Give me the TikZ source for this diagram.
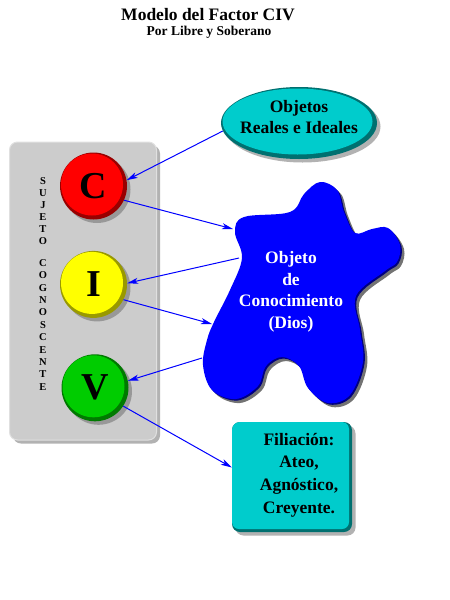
\documentclass[tikz,border=0pt]{standalone}
\usepackage{fontspec}
\setmainfont{Liberation Serif}
\usetikzlibrary{arrows.meta, positioning, shapes.geometric, shadows}

\definecolor{civred}{RGB}{255,0,0}
\definecolor{civyellow}{RGB}{255,255,0}
\definecolor{civgreen}{RGB}{0,204,0}
\definecolor{civblue}{RGB}{0,0,255}
\definecolor{civcyan}{RGB}{0,204,204}

\begin{document}
\begin{tikzpicture}[
    x=1pt, y=-1pt,
    node distance=31pt,
    txt/.style={font=\bfseries\fontsize{17.5}{21.5}\selectfont, align=center, inner sep=0pt},
    shade/.style={drop shadow={shadow xshift=3.5pt, shadow yshift=-3.5pt, fill=black!60}},
    ball/.style={circle, minimum size=67pt, inner sep=0pt, fill=#1!60!black, shade,
        path picture={\fill[#1] ([xshift=-1.5pt,yshift=1.5pt]path picture bounding box.center) circle (31pt);},
        font=\bfseries\fontsize{38}{40}\selectfont},
    letter/.style={font=\bfseries\fontsize{10.5}{12}\selectfont, inner sep=0pt},
    arrow/.style={-{Stealth[length=11pt, width=6pt, inset=3pt]}, civblue, line width=1pt}
]
\useasboundingbox (0,0) rectangle (450,600);

% title
\node[font=\bfseries\fontsize{17.5}{20}\selectfont] (title) at (208,15) {Modelo del Factor CIV};
\node[font=\bfseries\fontsize{13.5}{16}\selectfont] (subtitle) at (209,32) {Por Libre y Soberano};

% subject panel
\node[rectangle, rounded corners=8pt, minimum width=147pt, minimum height=298pt,
      fill=black!20, draw=black!12, line width=1pt, shade] (sujeto) at (83,291) {};
\foreach \ltr [count=\i] in {S,U,J,E,T,O}
  \node[letter] (sj\i) at (43,181+12.1*\i-12.1) {\ltr};
\foreach \ltr [count=\i] in {C,O,G,N,O,S,C,E,N,T,E}
  \node[letter] (cg\i) at (43,263+12.37*\i-12.37) {\ltr};

\node[ball=civred] (c) at (93.5,186) {C};
\node[ball=civyellow, below=of c] (i) {I};
\node[ball=civgreen, below=36pt of i, xshift=1.5pt] (v) {V};

% objects
\node[ellipse, minimum width=156pt, minimum height=72pt, inner sep=0pt, fill=civcyan!55!black, shade,
      path picture={\fill[civcyan] ([xshift=-1.5pt,yshift=1.5pt]path picture bounding box.center) ellipse (75pt and 33pt);}]
      (objetos) at (299,123) {};
\node[txt] (objtxt) at ([yshift=6pt]objetos.center) {Objetos\\Reales e Ideales};

% knowledge blob
\def\blob{plot[smooth cycle, tension=0.6] coordinates {
  (320,182) (337,190) (344,212) (355,233) (372,229) (388,228) (400,245) (397,262) (385,271)
  (356,296) (360,330) (363,362) (350,395) (328,403) (308,388) (299,366) (282,357) (266,366)
  (258,386) (236,399) (212,390) (203,365) (207,340) (214,322) (230,290) (242,258) (235,232)
  (244,217) (290,212) (304,194)}}
\fill[black!55, shift={(4,4)}] \blob;
\fill[civblue!50!black, shift={(1.5,1.5)}] \blob;
\fill[civblue] \blob;
\coordinate (blobA) at (233,229);
\coordinate (blobB) at (239,258);
\coordinate (blobC) at (212,324);
\coordinate (blobD) at (202,358);
\node[txt, text=white] (dios) at (291,292) {Objeto\\de\\Conocimiento\\(Dios)};

% filiation
\node[rectangle, rounded corners=8pt, minimum width=120pt, minimum height=110pt, fill=civcyan!55!black, shade,
      path picture={\fill[civcyan, rounded corners=7pt]
        ([shift={(0pt,3pt)}]path picture bounding box.south west) rectangle
        ([shift={(-3pt,0pt)}]path picture bounding box.north east);}]
      (filiacion) at (292,477) {};
\node[txt, font=\bfseries\fontsize{17.5}{22.6}\selectfont] (filtxt) at ([xshift=7pt,yshift=2pt]filiacion.center)
      {Filiación:\\Ateo,\\Agnóstico,\\Creyente.};

% connectors
\draw[arrow] (objetos.186) -- (c.10);
\draw[arrow] (c.-25) -- (blobA);
\draw[arrow] (blobB) -- (i.2);
\draw[arrow] (i.-27) -- (blobC);
\draw[arrow] (blobD) -- (v.12);
\draw[arrow] (v.-33) -- (filiacion.171);
\end{tikzpicture}
\end{document}
